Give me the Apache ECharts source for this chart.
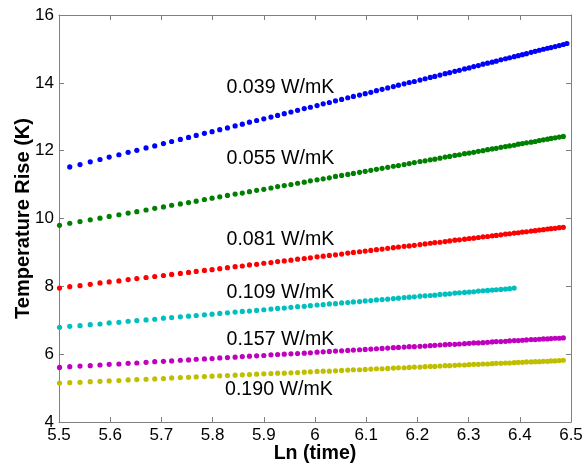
<!DOCTYPE html>
<html>
<head>
<meta charset="utf-8">
<script src="https://cdn.jsdelivr.net/npm/echarts@6/dist/echarts.min.js"></script>
<style>
html,body{margin:0;padding:0;background:#fff;}
#chart{width:584px;height:468px;}
</style>
</head>
<body>
<div id="chart"></div>
<script>
// Ln(time) sample positions (time = 245 ... 660)
const lnTime = [
5.501, 5.521, 5.541, 5.561, 5.580, 5.598, 5.617, 5.635, 5.652, 5.670,
5.687, 5.704, 5.720, 5.737, 5.753, 5.768, 5.784, 5.799, 5.814, 5.829,
5.844, 5.858, 5.872, 5.886, 5.900, 5.914, 5.927, 5.940, 5.953, 5.966,
5.979, 5.991, 6.004, 6.016, 6.028, 6.040, 6.052, 6.064, 6.075, 6.087,
6.098, 6.109, 6.120, 6.131, 6.142, 6.153, 6.163, 6.174, 6.184, 6.194,
6.205, 6.215, 6.225, 6.234, 6.244, 6.254, 6.263, 6.273, 6.282, 6.292,
6.301, 6.310, 6.319, 6.328, 6.337, 6.346, 6.354, 6.363, 6.372, 6.380,
6.389, 6.397, 6.405, 6.413, 6.422, 6.430, 6.438, 6.446, 6.454, 6.461,
6.469, 6.477, 6.485, 6.492
];

// 0.039 W/mK (starts at the 2nd time sample)
const rise039 = [
11.52, 11.59, 11.67, 11.74, 11.81, 11.88, 11.95, 12.01, 12.08, 12.14,
12.21, 12.27, 12.33, 12.39, 12.45, 12.51, 12.56, 12.62, 12.67, 12.73,
12.78, 12.84, 12.89, 12.94, 12.99, 13.04, 13.09, 13.14, 13.19, 13.24,
13.28, 13.33, 13.38, 13.42, 13.47, 13.51, 13.56, 13.60, 13.64, 13.68,
13.72, 13.77, 13.81, 13.85, 13.89, 13.93, 13.97, 14.01, 14.04, 14.08,
14.12, 14.16, 14.19, 14.23, 14.27, 14.30, 14.34, 14.37, 14.41, 14.44,
14.48, 14.51, 14.55, 14.58, 14.61, 14.64, 14.68, 14.71, 14.74, 14.77,
14.80, 14.83, 14.86, 14.90, 14.93, 14.96, 14.99, 15.02, 15.04, 15.07,
15.10, 15.13, 15.16
];
// 0.055 W/mK
const rise055 = [
9.80, 9.86, 9.91, 9.96, 10.01, 10.06, 10.11, 10.16, 10.20, 10.25,
10.30, 10.34, 10.39, 10.43, 10.47, 10.51, 10.56, 10.60, 10.64, 10.68,
10.72, 10.75, 10.79, 10.83, 10.86, 10.90, 10.94, 10.97, 11.00, 11.04,
11.07, 11.11, 11.14, 11.17, 11.20, 11.24, 11.27, 11.30, 11.33, 11.36,
11.39, 11.42, 11.45, 11.48, 11.51, 11.54, 11.56, 11.59, 11.62, 11.65,
11.68, 11.70, 11.73, 11.75, 11.78, 11.81, 11.83, 11.86, 11.88, 11.91,
11.93, 11.95, 11.98, 12.00, 12.03, 12.05, 12.07, 12.10, 12.12, 12.14,
12.16, 12.19, 12.21, 12.23, 12.25, 12.27, 12.30, 12.32, 12.34, 12.36,
12.38, 12.40, 12.42
];
// 0.081 W/mK
const rise081 = [
7.95, 7.99, 8.02, 8.06, 8.10, 8.13, 8.16, 8.20, 8.23, 8.26,
8.29, 8.32, 8.35, 8.38, 8.41, 8.44, 8.47, 8.49, 8.52, 8.55,
8.58, 8.60, 8.63, 8.65, 8.68, 8.70, 8.73, 8.75, 8.77, 8.80,
8.82, 8.84, 8.87, 8.89, 8.91, 8.93, 8.95, 8.98, 9.00, 9.02,
9.04, 9.06, 9.08, 9.10, 9.12, 9.14, 9.16, 9.18, 9.19, 9.21,
9.23, 9.25, 9.27, 9.29, 9.30, 9.32, 9.34, 9.36, 9.37, 9.39,
9.41, 9.42, 9.44, 9.46, 9.47, 9.49, 9.50, 9.52, 9.54, 9.55,
9.57, 9.58, 9.60, 9.61, 9.63, 9.64, 9.66, 9.67, 9.69, 9.70,
9.71, 9.73, 9.74
];
// 0.109 W/mK (shorter run)
const rise109 = [
6.79, 6.82, 6.84, 6.87, 6.89, 6.92, 6.94, 6.97, 6.99, 7.01,
7.03, 7.06, 7.08, 7.10, 7.12, 7.14, 7.16, 7.18, 7.20, 7.22,
7.24, 7.26, 7.27, 7.29, 7.31, 7.33, 7.35, 7.36, 7.38, 7.40,
7.41, 7.43, 7.45, 7.46, 7.48, 7.49, 7.51, 7.52, 7.54, 7.55,
7.57, 7.58, 7.60, 7.61, 7.62, 7.64, 7.65, 7.67, 7.68, 7.69,
7.71, 7.72, 7.73, 7.74, 7.76, 7.77, 7.78, 7.80, 7.81, 7.82,
7.83, 7.84, 7.86, 7.87, 7.88, 7.89, 7.90, 7.91, 7.92, 7.93,
7.95
];
// 0.157 W/mK
const rise157 = [
5.61, 5.63, 5.65, 5.66, 5.68, 5.70, 5.71, 5.73, 5.74, 5.76,
5.78, 5.79, 5.80, 5.82, 5.83, 5.85, 5.86, 5.87, 5.89, 5.90,
5.91, 5.93, 5.94, 5.95, 5.96, 5.98, 5.99, 6.00, 6.01, 6.02,
6.03, 6.04, 6.06, 6.07, 6.08, 6.09, 6.10, 6.11, 6.12, 6.13,
6.14, 6.15, 6.16, 6.17, 6.18, 6.19, 6.20, 6.21, 6.22, 6.22,
6.23, 6.24, 6.25, 6.26, 6.27, 6.28, 6.29, 6.29, 6.30, 6.31,
6.32, 6.33, 6.33, 6.34, 6.35, 6.36, 6.37, 6.37, 6.38, 6.39,
6.40, 6.40, 6.41, 6.42, 6.43, 6.43, 6.44, 6.45, 6.45, 6.46,
6.47, 6.47, 6.48
];
// 0.190 W/mK
const rise190 = [
5.15, 5.16, 5.17, 5.19, 5.20, 5.21, 5.22, 5.24, 5.25, 5.26,
5.27, 5.28, 5.30, 5.31, 5.32, 5.33, 5.34, 5.35, 5.36, 5.37,
5.38, 5.39, 5.40, 5.41, 5.42, 5.43, 5.44, 5.44, 5.45, 5.46,
5.47, 5.48, 5.49, 5.50, 5.50, 5.51, 5.52, 5.53, 5.54, 5.54,
5.55, 5.56, 5.57, 5.57, 5.58, 5.59, 5.60, 5.60, 5.61, 5.62,
5.62, 5.63, 5.64, 5.64, 5.65, 5.66, 5.66, 5.67, 5.68, 5.68,
5.69, 5.70, 5.70, 5.71, 5.71, 5.72, 5.73, 5.73, 5.74, 5.74,
5.75, 5.76, 5.76, 5.77, 5.77, 5.78, 5.78, 5.79, 5.79, 5.80,
5.80, 5.81, 5.82
];

const seriesNames = ['0.039 W/mK', '0.055 W/mK', '0.081 W/mK', '0.109 W/mK', '0.157 W/mK', '0.190 W/mK'];
const seriesColors = ['#0000ff', '#008000', '#ff0000', '#00bfbf', '#bf00bf', '#bfbf00'];
const seriesRise = [rise039, rise055, rise081, rise109, rise157, rise190];
const seriesStart = [1, 0, 0, 0, 0, 0];

const xTicks = { min: 5.5, max: 6.5, interval: 0.1 };
const yTicks = { min: 4, max: 16, interval: 2 };

const FONT = '"Liberation Sans", Arial, Helvetica, sans-serif';
const AX = '#808080';

function pairs(start, ys) {
  return ys.map((y, i) => [lnTime[start + i], y]);
}

const chart = echarts.init(document.getElementById('chart'), null, { renderer: 'canvas' });

const baseAxis = {
  axisLine: { show: true, onZero: false, lineStyle: { color: AX, width: 1 } },
  axisTick: { show: true, inside: true, length: 5, lineStyle: { color: AX } },
  splitLine: { show: false },
  axisLabel: { color: '#000', fontFamily: FONT, fontSize: 17 }
};

const labelPos = [
  { x: 226.5, y: 87.5 },
  { x: 226.5, y: 159 },
  { x: 226.5, y: 239.5 },
  { x: 226.5, y: 292.3 },
  { x: 226.5, y: 339.5 },
  { x: 225, y: 390 }
];

const option = {
  backgroundColor: '#fff',
  animation: false,
  grid: { left: 59, right: 13, top: 15, bottom: 46, containLabel: false, outerBoundsMode: 'none' },
  xAxis: [
    Object.assign({}, baseAxis, {
      type: 'value', position: 'bottom',
      min: xTicks.min, max: xTicks.max, interval: xTicks.interval,
      axisLabel: Object.assign({}, baseAxis.axisLabel, { margin: 5, formatter: v => String(+v.toFixed(1)) }),
      name: 'Ln (time)', nameLocation: 'middle', nameGap: 22, nameMoveOverlap: false,
      nameTextStyle: { fontFamily: FONT, fontSize: 19.6, fontWeight: 'bold', color: '#000' }
    }),
    Object.assign({}, baseAxis, {
      type: 'value', position: 'top',
      min: xTicks.min, max: xTicks.max, interval: xTicks.interval,
      axisLabel: { show: false }
    })
  ],
  yAxis: [
    Object.assign({}, baseAxis, {
      type: 'value', position: 'left',
      min: yTicks.min, max: yTicks.max, interval: yTicks.interval,
      axisLabel: Object.assign({}, baseAxis.axisLabel, { margin: 5 }),
      name: 'Temperature Rise (K)', nameLocation: 'middle', nameGap: 26, nameMoveOverlap: false,
      nameTextStyle: { fontFamily: FONT, fontSize: 20, fontWeight: 'bold', color: '#000' }
    }),
    Object.assign({}, baseAxis, {
      type: 'value', position: 'right',
      min: yTicks.min, max: yTicks.max, interval: yTicks.interval,
      axisLabel: { show: false }
    })
  ],
  series: seriesRise.map((ys, k) => ({
    name: seriesNames[k],
    type: 'scatter',
    xAxisIndex: 0, yAxisIndex: 0,
    symbol: 'circle',
    symbolSize: 5.2,
    itemStyle: { color: seriesColors[k], opacity: 1 },
    data: pairs(seriesStart[k], ys)
  })),
  graphic: seriesNames.map((name, k) => ({
    type: 'text',
    x: labelPos[k].x, y: labelPos[k].y,
    z: 100,
    style: {
      text: name, fill: '#000',
      font: '19.6px ' + FONT,
      textAlign: 'left', textVerticalAlign: 'middle'
    }
  }))
};

chart.setOption(option);
</script>
</body>
</html>
